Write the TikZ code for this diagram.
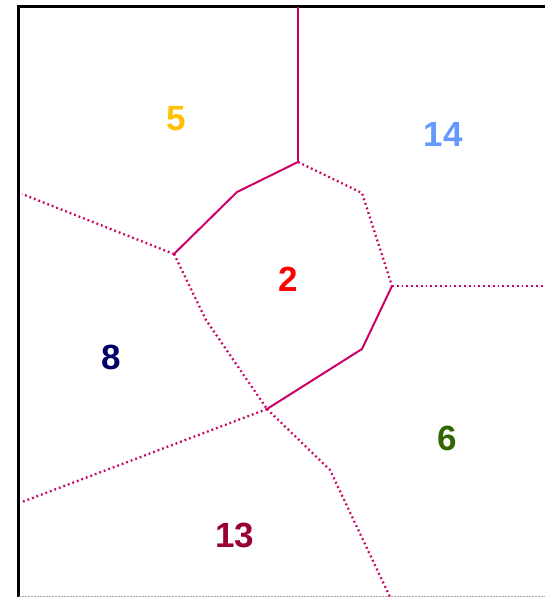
\documentclass[tikz,border=0pt]{standalone}
\usepackage{fontspec}
\setmainfont{Liberation Sans}
\definecolor{edge}{HTML}{CC0066}
\definecolor{cfive}{HTML}{FFC000}
\definecolor{cfourteen}{HTML}{6699FF}
\definecolor{ceight}{HTML}{000066}
\definecolor{csix}{HTML}{336600}
\definecolor{cthirteen}{HTML}{990033}
\definecolor{ctwo}{HTML}{FF0000}
\begin{document}
\begin{tikzpicture}[x=1pt,y=-1pt,
  lbl/.style={font=\fontsize{35}{35}\selectfont\bfseries,inner sep=0pt,anchor=center},
  solidedge/.style={draw=edge,line width=2pt},
  dotedge/.style={draw=edge,line width=2.3pt,dash pattern=on 1.8pt off 3pt}]
\useasboundingbox (0,0) rectangle (545,597);
% frame
\draw[line width=3pt,black] (18.5,597) -- (18.5,6) -- (545,6);
\draw[line width=0.8pt,gray!70,dash pattern=on 2pt off 1pt] (18.5,596) -- (545,596);
% vertices
\coordinate (A) at (298,162);
\coordinate (B) at (237,192);
\coordinate (C) at (174,254);
\coordinate (D) at (362,193);
\coordinate (E) at (392,286);
\coordinate (F) at (362,349);
\coordinate (G) at (267,409);
\coordinate (H) at (206,320);
\coordinate (K) at (330,470);
\coordinate (top) at (298,7);
\coordinate (right) at (545,286);
\coordinate (left1) at (22,194);
\coordinate (left2) at (22,502);
\coordinate (bot) at (390,597);
% solid-looking edges
\path[solidedge] (top) -- (A);
\path[solidedge] (A) -- (B) -- (C);
\path[solidedge] (E) -- (F) -- (G);
% dotted edges
\path[dotedge] (A) -- (D) -- (E);
\path[dotedge] (E) -- (right);
\path[dotedge] (C) -- (left1);
\path[dotedge] (C) -- (H) -- (G);
\path[dotedge] (G) -- (left2);
\path[dotedge] (G) -- (K) -- (bot);
% labels
\node[lbl,text=cfive] (n5) at (176.5,119) {5};
\node[lbl,text=cfourteen] (n14) at (443,134) {14};
\node[lbl,text=ctwo] (n2) at (288,279) {2};
\node[lbl,text=ceight] (n8) at (111.5,357) {8};
\node[lbl,text=csix] (n6) at (447,438) {6};
\node[lbl,text=cthirteen] (n13) at (235,535) {13};
\end{tikzpicture}
\end{document}
